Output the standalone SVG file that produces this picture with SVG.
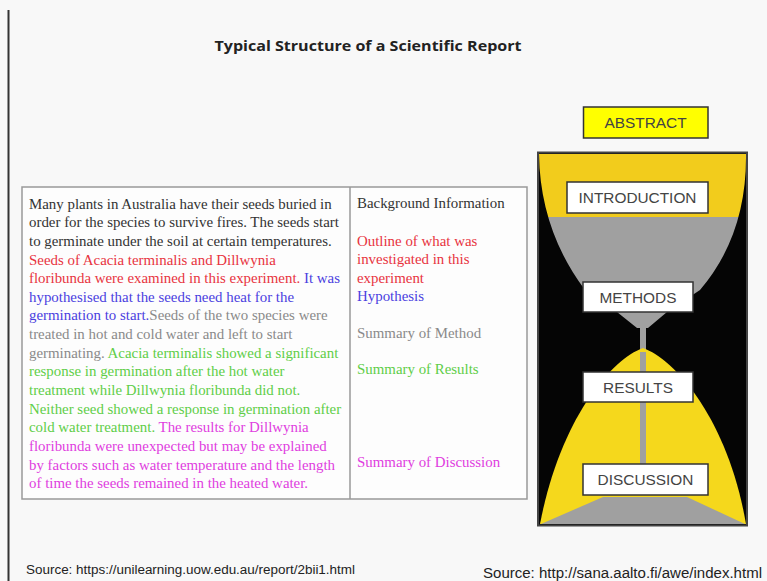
<svg xmlns="http://www.w3.org/2000/svg" width="767" height="581" viewBox="0 0 767 581">
<defs>
<style>
.bg{fill:#f8f8f8}
.serif{font-family:"Liberation Serif","Times New Roman",serif;font-size:14.9px}
.k{fill:#333}
.r{fill:#e8343f}
.b{fill:#4b3fe0}
.g{fill:#8a8a8a}
.gr{fill:#5fce48}
.m{fill:#e03ee0}
.lbl{font-family:"Liberation Sans",Arial,sans-serif;font-size:15.4px;fill:#444;text-anchor:middle}
.box{fill:#fff;stroke:#333;stroke-width:1.5}
.src{font-family:"Liberation Sans",Arial,sans-serif;fill:#222}
</style>
<clipPath id="bulb">
<path d="M539,154 L746,154 Q747,235 700,290 L667,312 L648,328 L637,328 L617,312 L585,290 Q540,230 539,154 Z"/>
</clipPath>
</defs>
<rect class="bg" x="0" y="0" width="767" height="581"/>
<line x1="8.5" y1="10" x2="8.5" y2="581" stroke="#333" stroke-width="2"/>
<text x="368" y="51" text-anchor="middle" font-family="'Open Sans','Liberation Sans',sans-serif" font-weight="bold" font-size="15" fill="#222" textLength="307" lengthAdjust="spacingAndGlyphs">Typical Structure of a Scientific Report</text>

<g id="report-text">
<rect x="22" y="187" width="505" height="312" fill="#fdfdfd" stroke="#999" stroke-width="1.5"/>
<line x1="350" y1="187" x2="350" y2="499" stroke="#999" stroke-width="1.5"/>
<text class="serif" x="29">
<tspan x="29" y="208.5" class="k">Many plants in Australia have their seeds buried in</tspan>
<tspan x="29" y="227.2" class="k">order for the species to survive fires. The seeds start</tspan>
<tspan x="29" y="245.8" class="k">to germinate under the soil at certain temperatures.</tspan>
<tspan x="29" y="264.5" class="r">Seeds of Acacia terminalis and Dillwynia</tspan>
<tspan x="29" y="283.1" class="r">floribunda were examined in this experiment.</tspan><tspan class="b"> It was</tspan>
<tspan x="29" y="301.8" class="b">hypothesised that the seeds need heat for the</tspan>
<tspan x="29" y="320.4" class="b">germination to start.</tspan><tspan class="g">Seeds of the two species were</tspan>
<tspan x="29" y="339.1" class="g">treated in hot and cold water and left to start</tspan>
<tspan x="29" y="357.7" class="g">germinating.</tspan><tspan class="gr"> Acacia terminalis showed a significant</tspan>
<tspan x="29" y="376.4" class="gr">response in germination after the hot water</tspan>
<tspan x="29" y="395" class="gr">treatment while Dillwynia floribunda did not.</tspan>
<tspan x="29" y="413.7" class="gr">Neither seed showed a response in germination after</tspan>
<tspan x="29" y="432.3" class="gr">cold water treatment.</tspan><tspan class="m"> The results for Dillwynia</tspan>
<tspan x="29" y="451" class="m">floribunda were unexpected but may be explained</tspan>
<tspan x="29" y="469.6" class="m">by factors such as water temperature and the length</tspan>
<tspan x="29" y="488.3" class="m">of time the seeds remained in the heated water.</tspan>
</text>
<text class="serif">
<tspan x="357" y="207.5" class="k">Background Information</tspan>
<tspan x="357" y="245.5" class="r">Outline of what was</tspan>
<tspan x="357" y="264" class="r">investigated in this</tspan>
<tspan x="357" y="282.5" class="r">experiment</tspan>
<tspan x="357" y="300.5" class="b">Hypothesis</tspan>
<tspan x="357" y="337.5" class="g">Summary of Method</tspan>
<tspan x="357" y="373.5" class="gr">Summary of Results</tspan>
<tspan x="357" y="466.5" class="m">Summary of Discussion</tspan>
</text>
</g>

<g id="hourglass">
<rect x="538" y="152.5" width="209" height="373" fill="#050505" stroke="#444" stroke-width="2"/>
<g clip-path="url(#bulb)">
<rect x="538" y="153" width="210" height="64" fill="#f2cc1c"/>
<rect x="538" y="217" width="210" height="115" fill="#a0a0a0"/>
</g>
<rect x="640" y="325" width="6" height="140" fill="#a0a0a0"/>
<path d="M643,348 C610,360 560,420 540,524 L746,524 C728,420 676,360 643,348 Z" fill="#f5d81c"/>
<rect x="640" y="352" width="6" height="113" fill="#a0a0a0"/>
<path d="M603,497 L687,497 L745,524 L541,524 Z" fill="#a0a0a0"/>
</g>

<g id="abstract">
<rect x="583.5" y="107" width="124.5" height="31" fill="#ffff00" stroke="#333" stroke-width="1.5"/>
<text class="lbl" x="645.5" y="128">ABSTRACT</text>
</g>
<g id="introduction">
<rect class="box" x="567" y="182" width="141" height="31"/>
<text class="lbl" x="637.5" y="203">INTRODUCTION</text>
</g>
<g id="methods">
<rect class="box" x="583" y="282" width="110" height="30"/>
<text class="lbl" x="638" y="302.5">METHODS</text>
</g>
<g id="results">
<rect class="box" x="583" y="372" width="110" height="30"/>
<text class="lbl" x="638" y="392.5">RESULTS</text>
</g>
<g id="discussion">
<rect class="box" x="583" y="464" width="125" height="31"/>
<text class="lbl" x="645.5" y="485">DISCUSSION</text>
</g>

<text class="src" x="26" y="573.5" font-size="12.5" textLength="329" lengthAdjust="spacingAndGlyphs">Source: https://unilearning.uow.edu.au/report/2bii1.html</text>
<text class="src" x="483" y="578" font-size="14" textLength="279" lengthAdjust="spacingAndGlyphs">Source: http://sana.aalto.fi/awe/index.html</text>
</svg>
